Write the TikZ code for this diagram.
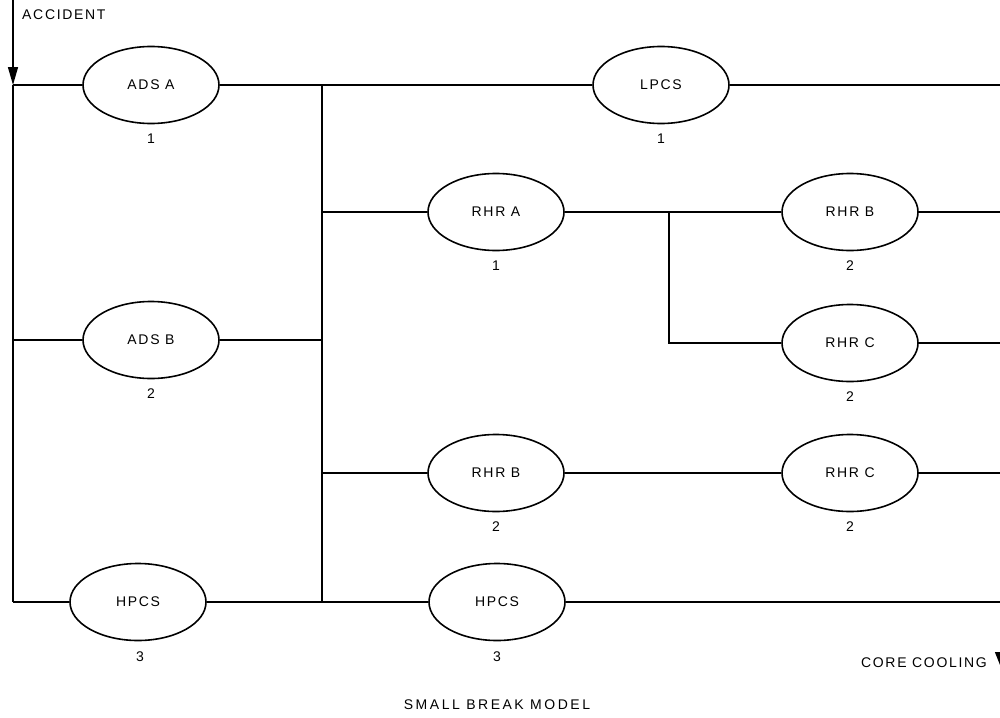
\documentclass[tikz,border=0pt]{standalone}
\usepackage{fontspec}
\setmainfont{Liberation Sans}[LetterSpace=12]
\usetikzlibrary{shapes.geometric,arrows.meta}
\begin{document}
\begin{tikzpicture}[x=1pt,y=-1pt,
  comp/.style={ellipse,draw,line width=1.6pt,minimum width=136pt,minimum height=77pt,inner sep=0pt,font=\fontsize{14}{16}\selectfont},
  num/.style={font=\fontsize{14}{16}\selectfont,inner sep=0pt},
  wire/.style={line width=1.4pt},
  ]
\useasboundingbox (0,0) rectangle (1000,717);
% components
\node[comp] (adsa) at (151,85) {ADS A};
\node[comp] (adsb) at (151,340) {ADS B};
\node[comp] (hpcsa) at (138,602) {HPCS};
\node[comp] (lpcs) at (661,85) {LPCS};
\node[comp] (rhra) at (496,212) {RHR A};
\node[comp] (rhrba) at (850,212) {RHR B};
\node[comp] (rhrca) at (850,343) {RHR C};
\node[comp] (rhrbb) at (496,473) {RHR B};
\node[comp] (rhrcb) at (850,473) {RHR C};
\node[comp] (hpcsb) at (497,602) {HPCS};
% numbers
\node[num] (n1) at (151,139) {1};
\node[num] (n2) at (151,394) {2};
\node[num] (n3) at (140,657) {3};
\node[num] (n4) at (661,139) {1};
\node[num] (n5) at (496,266) {1};
\node[num] (n6) at (850,266) {2};
\node[num] (n7) at (850,397) {2};
\node[num] (n8) at (496,527) {2};
\node[num] (n9) at (850,527) {2};
\node[num] (n10) at (497,657) {3};
% texts
\node[num,anchor=west] (acc) at (22,15) {ACCIDENT};
\node[num,anchor=east] (cc) at (987,663) {CORE COOLING};
\node[num] (title) at (497,705) {\addfontfeatures{LetterSpace=18}SMALL BREAK MODEL};
% junction coordinates
\coordinate (top) at (13,0);
\coordinate (la) at (13,85);
\coordinate (lb) at (13,340);
\coordinate (lc) at (13,602);
\coordinate (ma) at (322,85);
\coordinate (mb) at (322,212);
\coordinate (mc) at (322,340);
\coordinate (md) at (322,473);
\coordinate (me) at (322,602);
\coordinate (ra) at (669,212);
\coordinate (rb) at (669,343);
\coordinate (ea) at (1000,85);
\coordinate (eb) at (1000,212);
\coordinate (ec) at (1000,343);
\coordinate (ed) at (1000,473);
\coordinate (ee) at (1000,602);
\coordinate (cca) at (1002,602);
\coordinate (ccb) at (1002,670);
% connectors
\draw[wire,-{Triangle[length=18pt,width=10pt]}] (top) -- (la);
\draw[wire] (la) -- (lc);
\draw[wire] (la) -- (adsa);
\draw[wire] (adsa) -- (lpcs);
\draw[wire] (lpcs) -- (ea);
\draw[wire] (ma) -- (me);
\draw[wire] (lb) -- (adsb);
\draw[wire] (adsb) -- (mc);
\draw[wire] (lc) -- (hpcsa);
\draw[wire] (hpcsa) -- (hpcsb);
\draw[wire] (hpcsb) -- (ee);
\draw[wire] (mb) -- (rhra);
\draw[wire] (rhra) -- (rhrba);
\draw[wire] (rhrba) -- (eb);
\draw[wire] (ra) -- (rb) -- (rhrca);
\draw[wire] (rhrca) -- (ec);
\draw[wire] (md) -- (rhrbb);
\draw[wire] (rhrbb) -- (rhrcb);
\draw[wire] (rhrcb) -- (ed);
\draw[wire,-{Triangle[length=18pt,width=14pt]}] (cca) -- (ccb);
\end{tikzpicture}
\end{document}
